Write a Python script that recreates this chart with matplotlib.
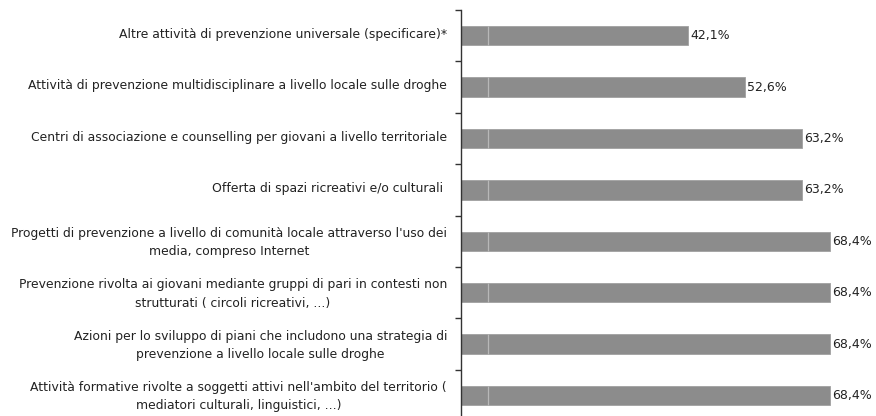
import matplotlib
matplotlib.use('Agg')
import matplotlib.pyplot as plt
import matplotlib.transforms as mtransforms

plt.rcParams['font.family'] = ['DejaVu Sans']

categories = [
    "Altre attività di prevenzione universale (specificare)*",
    "Attività di prevenzione multidisciplinare a livello locale sulle droghe",
    "Centri di associazione e counselling per giovani a livello territoriale",
    "Offerta di spazi ricreativi e/o culturali ",
    "Progetti di prevenzione a livello di comunità locale attraverso l'uso dei\nmedia, compreso Internet",
    "Prevenzione rivolta ai giovani mediante gruppi di pari in contesti non\nstrutturati ( circoli ricreativi, ...)",
    "Azioni per lo sviluppo di piani che includono una strategia di\nprevenzione a livello locale sulle droghe",
    "Attività formative rivolte a soggetti attivi nell'ambito del territorio (\nmediatori culturali, linguistici, ...)",
]
values = [42.1, 52.6, 63.2, 63.2, 68.4, 68.4, 68.4, 68.4]
value_labels = [f"{v:.1f}%".replace('.', ',') for v in values]

W, H = 876, 416
fig = plt.figure(figsize=(W / 100, H / 100), dpi=100)
# axis starts at x=461px, top at y=10px, rows ~51.4px apart (bottom cut off)
left_px, top_px, row_px = 461, 10, 51.4
bottom_px = top_px + row_px * len(categories)
ax = fig.add_axes([left_px / W, 1 - bottom_px / H, (W - left_px) / W, (bottom_px - top_px) / H])

pos = list(range(len(categories)))
bar_h = 0.38
ax.barh(pos, values, height=bar_h, color='#8c8c8c', edgecolor='#a0a0a0', linewidth=0.6)
# faint light streak through the bars near the axis, as in the scan
ax.vlines([5] * len(pos), [p - bar_h / 2 for p in pos], [p + bar_h / 2 for p in pos],
          color='#b8b8b8', linewidth=0.9, zorder=3)

for p, v, lab in zip(pos, values, value_labels):
    ax.text(v + 0.4, p, lab, va='center', ha='left', fontsize=9, color='#222222')

ax.set_xlim(0, (W - left_px) / 5.4)
ax.set_ylim(len(categories) - 0.5, -0.5)

ax.set_yticks(pos)
ax.set_yticklabels(categories, fontsize=8.9, color='#222222', multialignment='center', linespacing=1.55)
ax.set_yticks([p - 0.5 for p in range(len(categories) + 1)], minor=True)
ax.tick_params(axis='y', which='major', length=0, pad=10)
ax.tick_params(axis='y', which='minor', length=4, width=1, color='#333333', direction='out')
ax.set_xticks([])

# nudge category labels up a few pixels
shift = mtransforms.ScaledTranslation(0, 3 / 100, fig.dpi_scale_trans)
for lbl in ax.get_yticklabels():
    lbl.set_transform(lbl.get_transform() + shift)

for s in ['top', 'right', 'bottom']:
    ax.spines[s].set_visible(False)
ax.spines['left'].set_color('#333333')
ax.spines['left'].set_linewidth(1)

fig.savefig('out.png', dpi=100)
